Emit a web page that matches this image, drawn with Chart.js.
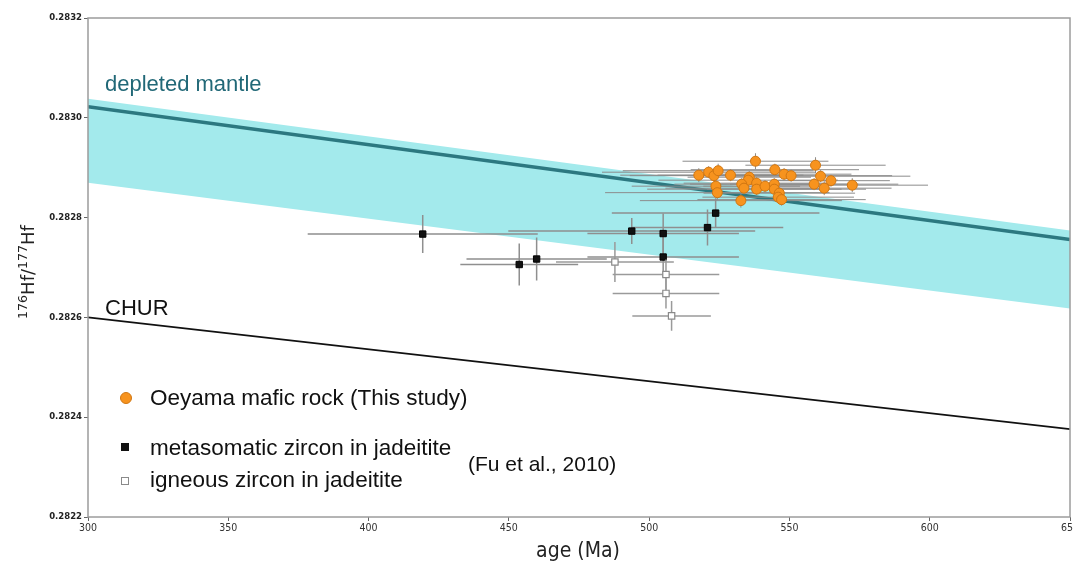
<!DOCTYPE html>
<html>
<head>
<meta charset="utf-8">
<script src="https://cdn.jsdelivr.net/npm/chart.js@4.4.1/dist/chart.umd.min.js"></script>
<style>
  html, body { margin: 0; padding: 0; background: #fff; overflow: hidden; }
  #wrap { width: 1073px; height: 563px; position: relative; }
  canvas { display: block; }
</style>
</head>
<body>
<div id="wrap"><canvas id="hfChart"></canvas></div>
<script>
// reference curves (age Ma -> 176Hf/177Hf)
const curveAges = [300, 650];
const bandUpper = [0.283038, 0.282774];
const bandLower = [0.282870, 0.282618];
const dmValues = [0.283022, 0.282756];
const churValues = [0.282600, 0.282376];

// Oeyama mafic rock (this study)
const oeyamaAge = [537.9, 544.8, 548.1, 550.6, 517.7, 521.2, 523.1, 524.6, 529.0, 535.7,
  535.3, 523.8, 524.3, 533.0, 533.8, 538.3, 538.3, 541.3, 544.6, 544.6,
  546.4, 546.0, 547.2, 532.7, 559.3, 561.1, 564.8, 558.8, 562.4, 572.4];
const oeyamaHf = [0.282913, 0.282896, 0.282887, 0.282884, 0.282885, 0.282891, 0.282884, 0.282894, 0.282885, 0.282881,
  0.282875, 0.282863, 0.282850, 0.282867, 0.282859, 0.282869, 0.282857, 0.282863, 0.282867, 0.282857,
  0.282849, 0.282841, 0.282836, 0.282834, 0.282905, 0.282883, 0.282874, 0.282867, 0.282859, 0.282865];
const oeyamaAgeErr = [26, 30, 24, 36, 28, 38, 30, 34, 26, 22,
  32, 30, 40, 24, 28, 26, 39, 22, 30, 24,
  27, 27, 30, 36, 25, 32, 21, 30, 24, 27];
const oeyamaHfErr = [0.000016, 0.000012, 0.000012, 0.000012, 0.000014, 0.000012, 0.000012, 0.000014, 0.000012, 0.000012,
  0.000012, 0.000012, 0.000014, 0.000012, 0.000012, 0.000012, 0.000012, 0.000012, 0.000012, 0.000012,
  0.000012, 0.000012, 0.000012, 0.000014, 0.000016, 0.000012, 0.000012, 0.000012, 0.000014, 0.000014];

// Fu et al. (2010) metasomatic zircon in jadeitite
const metaAge = [419.3, 453.7, 459.9, 493.8, 505.0, 520.8, 523.7, 505.0];
const metaHf = [0.282767, 0.282706, 0.282717, 0.282773, 0.282768, 0.282780, 0.282809, 0.282721];
const metaAgeErr = [41, 21, 25, 44, 27, 27, 37, 27];
const metaHfErr = [0.000038, 0.000042, 0.000043, 0.000026, 0.000040, 0.000036, 0.000030, 0.000040];

// Fu et al. (2010) igneous zircon in jadeitite
const ignAge = [487.8, 506.0, 506.0, 508.0];
const ignHf = [0.282711, 0.282686, 0.282648, 0.282603];
const ignAgeErr = [21, 19, 19, 14];
const ignHfErr = [0.000040, 0.000030, 0.000030, 0.000030];

const xTicks = [300, 350, 400, 450, 500, 550, 600, 650];

const pts = (xs, ys) => xs.map((x, i) => ({ x: x, y: ys[i] }));

const sansCond = "'DejaVu Sans Condensed', 'Liberation Sans Narrow', 'DejaVu Sans', sans-serif";

// error bars, drawn just before each scatter set so markers sit on top
const errorBars = {
  id: 'errorBars',
  beforeDatasetDraw(chart, args) {
    const ds = chart.data.datasets[args.index];
    if (!ds.errX) return;
    const { ctx, chartArea, scales } = chart;
    ctx.save();
    ctx.beginPath();
    ctx.rect(chartArea.left, chartArea.top, chartArea.right - chartArea.left, chartArea.bottom - chartArea.top);
    ctx.clip();
    ctx.strokeStyle = ds.errColor;
    ctx.lineWidth = ds.errWidth;
    ds.data.forEach((p, i) => {
      const px = scales.x.getPixelForValue(p.x);
      const py = scales.y.getPixelForValue(p.y);
      ctx.beginPath();
      ctx.moveTo(scales.x.getPixelForValue(p.x - ds.errX[i]), py);
      ctx.lineTo(scales.x.getPixelForValue(p.x + ds.errX[i]), py);
      ctx.moveTo(px, scales.y.getPixelForValue(p.y - ds.errY[i]));
      ctx.lineTo(px, scales.y.getPixelForValue(p.y + ds.errY[i]));
      ctx.stroke();
    });
    ctx.restore();
  }
};

// frame, axis titles, curve labels and the in-plot legend
const decorations = {
  id: 'decorations',
  afterDraw(chart) {
    const { ctx, chartArea: a } = chart;
    ctx.save();
    ctx.strokeStyle = '#9c9c9c';
    ctx.lineWidth = 1.5;
    ctx.strokeRect(a.left, a.top, a.right - a.left, a.bottom - a.top);

    ctx.fillStyle = '#222';
    ctx.textBaseline = 'alphabetic';
    ctx.textAlign = 'center';
    ctx.font = '21px ' + sansCond;
    ctx.fillText('age (Ma)', 578, 557);

    // y title with superscripts
    ctx.translate(28, 272);
    ctx.rotate(-Math.PI / 2);
    const parts = [['176', 12.6, -7], ['Hf/', 18, 0], ['177', 12.6, -7], ['Hf', 18, 0]];
    let total = 0;
    parts.forEach(p => { ctx.font = p[1] + 'px DejaVu Sans'; total += ctx.measureText(p[0]).width; });
    let cx = -total / 2;
    ctx.textAlign = 'left';
    parts.forEach(p => {
      ctx.font = p[1] + 'px DejaVu Sans';
      ctx.fillText(p[0], cx, 6 + p[2]);
      cx += ctx.measureText(p[0]).width;
    });
    ctx.setTransform(1, 0, 0, 1, 0, 0);

    ctx.textAlign = 'left';
    ctx.font = '22px Liberation Sans';
    ctx.fillStyle = '#216877';
    ctx.fillText('depleted mantle', 105, 91);
    ctx.fillStyle = '#111';
    ctx.fillText('CHUR', 105, 315);

    // legend
    ctx.beginPath();
    ctx.arc(126, 398, 5.5, 0, Math.PI * 2);
    ctx.fillStyle = '#f7931e';
    ctx.fill();
    ctx.strokeStyle = '#d07612';
    ctx.lineWidth = 1;
    ctx.stroke();
    ctx.fillStyle = '#111';
    ctx.fillRect(121, 443, 8, 8);
    ctx.fillStyle = '#fff';
    ctx.fillRect(121, 477, 8, 8);
    ctx.strokeStyle = '#8a8a8a';
    ctx.strokeRect(121.5, 477.5, 7, 7);

    ctx.fillStyle = '#111';
    ctx.font = '22.5px Liberation Sans';
    ctx.fillText('Oeyama mafic rock (This study)', 150, 405);
    ctx.fillText('metasomatic zircon in jadeitite', 150, 455);
    ctx.fillText('igneous zircon in jadeitite', 150, 487);
    ctx.font = '21px Liberation Sans';
    ctx.fillText('(Fu et al., 2010)', 468, 471);
    ctx.restore();
  }
};

const ctx = document.getElementById('hfChart').getContext('2d');
const chart = new Chart(ctx, {
  type: 'scatter',
  data: {
    datasets: [
      {
        type: 'line', label: 'band top', data: pts(curveAges, bandUpper),
        borderWidth: 0, pointRadius: 0, fill: '+1', backgroundColor: '#a3eaec', order: 10
      },
      {
        type: 'line', label: 'band bottom', data: pts(curveAges, bandLower),
        borderWidth: 0, pointRadius: 0, fill: false, order: 11
      },
      {
        type: 'line', label: 'depleted mantle', data: pts(curveAges, dmValues),
        borderColor: '#2c7880', borderWidth: 3.5, pointRadius: 0, fill: false, order: 6
      },
      {
        type: 'line', label: 'CHUR', data: pts(curveAges, churValues),
        borderColor: '#111', borderWidth: 1.6, pointRadius: 0, fill: false, order: 6
      },
      {
        label: 'metasomatic zircon in jadeitite', data: pts(metaAge, metaHf),
        errX: metaAgeErr, errY: metaHfErr, errColor: '#8f8f8f', errWidth: 1.5,
        pointStyle: 'rect', pointRadius: 4.5, backgroundColor: '#111', borderColor: '#000', borderWidth: 1, order: 3
      },
      {
        label: 'igneous zircon in jadeitite', data: pts(ignAge, ignHf),
        errX: ignAgeErr, errY: ignHfErr, errColor: '#9a9a9a', errWidth: 1.5,
        pointStyle: 'rect', pointRadius: 4.5, backgroundColor: '#fff', borderColor: '#8a8a8a', borderWidth: 1.2, order: 2
      },
      {
        label: 'Oeyama mafic rock (This study)', data: pts(oeyamaAge, oeyamaHf),
        errX: oeyamaAgeErr, errY: oeyamaHfErr, errColor: '#8c8c8c', errWidth: 1,
        pointStyle: 'circle', pointRadius: 5, backgroundColor: '#f7931e', borderColor: '#d07612', borderWidth: 1, order: 1
      }
    ]
  },
  options: {
    responsive: true,
    maintainAspectRatio: false,
    animation: false,
    layout: { autoPadding: false, padding: { top: 18, right: 3, left: 0, bottom: 0 } },
    plugins: { legend: { display: false }, tooltip: { enabled: false } },
    scales: {
      x: {
        type: 'linear', min: 300, max: 650,
        afterBuildTicks: s => { s.ticks = xTicks.map(v => ({ value: v })); },
        afterFit: s => { s.height = 46; s.paddingLeft = 0; s.paddingRight = 0; },
        border: { display: false },
        grid: { display: true, drawOnChartArea: false, drawTicks: true, tickLength: 4, color: '#666' },
        ticks: { color: '#333', padding: 1, maxRotation: 0, font: { family: sansCond, size: 10.5 } }
      },
      y: {
        type: 'linear', min: 0.2822, max: 0.2832,
        ticks: {
          stepSize: 0.0002, color: '#222', padding: 2,
          font: { family: 'DejaVu Sans', size: 8.5, weight: 'bold' },
          callback: v => Number(v).toFixed(4)
        },
        afterFit: s => { s.width = 88; s.paddingTop = 0; s.paddingBottom = 0; },
        border: { display: false },
        grid: { display: true, drawOnChartArea: false, drawTicks: true, tickLength: 4, color: '#666' }
      }
    }
  },
  plugins: [errorBars, decorations]
});
</script>
</body>
</html>
